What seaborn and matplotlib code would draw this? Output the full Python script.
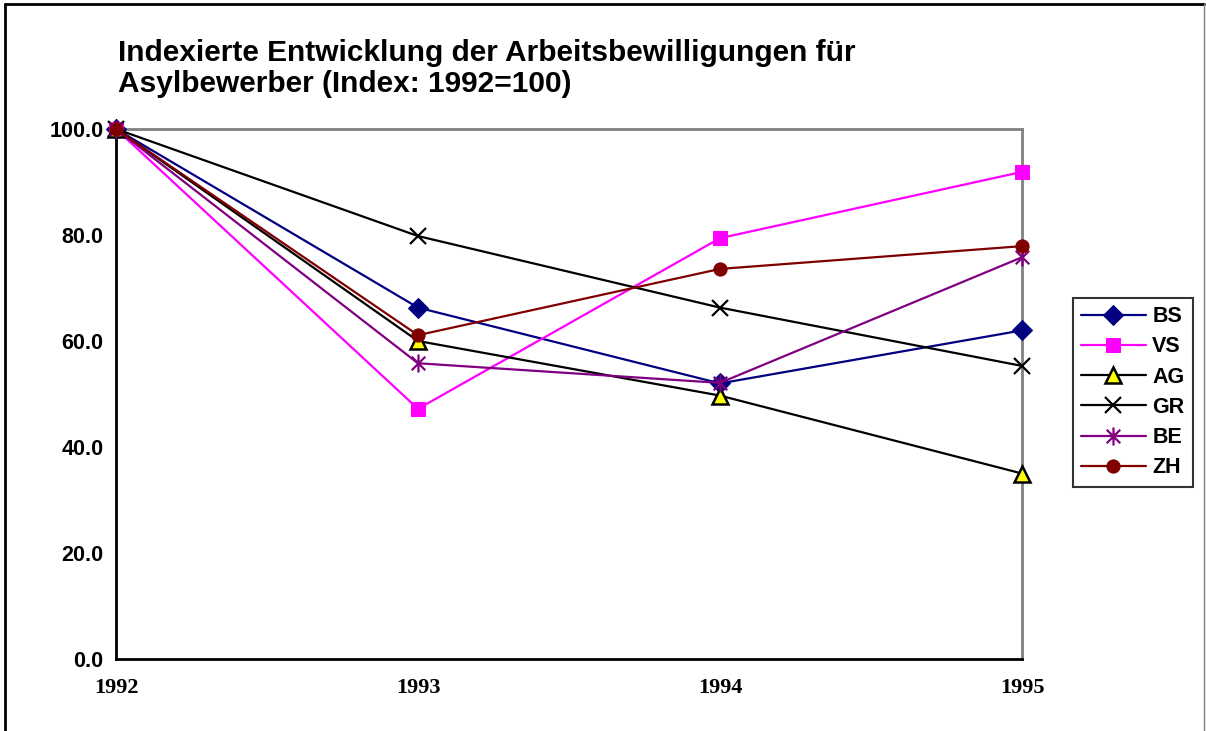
import numpy as np
import pandas as pd
import matplotlib
matplotlib.use("Agg")
import matplotlib.pyplot as plt
from matplotlib.path import Path
from matplotlib.lines import Line2D
import seaborn as sns

# Data (index, 1992 = 100)
years = [1992, 1993, 1994, 1995]
bs = [100.0, 66.3, 52.0, 62.0]
vs = [100.0, 47.2, 79.4, 91.9]
ag = [100.0, 60.0, 49.7, 35.0]
gr = [100.0, 79.8, 66.3, 55.3]
be = [100.0, 55.8, 52.1, 75.8]
zh = [100.0, 61.1, 73.6, 77.9]
series_names = ["BS", "VS", "AG", "GR", "BE", "ZH"]
series_values = [bs, vs, ag, gr, be, zh]

# Excel-style asterisk marker: vertical bar plus an x
asterisk = Path(
    [(0, -1), (0, 1), (-0.75, -0.75), (0.75, 0.75), (-0.75, 0.75), (0.75, -0.75)],
    [Path.MOVETO, Path.LINETO, Path.MOVETO, Path.LINETO, Path.MOVETO, Path.LINETO],
)

styles = {
    "BS": dict(color="#000080", marker="D", markersize=10, mfc="#000080", mec="#000080"),
    "VS": dict(color="#FF00FF", marker="s", markersize=10.5, mfc="#FF00FF", mec="#FF00FF"),
    "AG": dict(color="#000000", marker="^", markersize=11.5, mfc="#FFFF00", mec="#000000", mew=1.8),
    "GR": dict(color="#000000", marker="x", markersize=12, mec="#000000", mew=1.6),
    "BE": dict(color="#800080", marker=asterisk, markersize=13, mec="#800080", mew=1.6),
    "ZH": dict(color="#800000", marker="o", markersize=9.5, mfc="#800000", mec="#800000"),
}

sns.set_style("white")
plt.rcParams["font.family"] = ["Liberation Sans", "DejaVu Sans"]
plt.rcParams["text.color"] = "black"
plt.rcParams["xtick.color"] = "black"
plt.rcParams["ytick.color"] = "black"

fig = plt.figure(figsize=(12.06, 7.31), dpi=100)
ax = fig.add_axes([116 / 1206, 1 - 659 / 731, (1022 - 116) / 1206, (659 - 129) / 731])

for name, vals in zip(series_names, series_values):
    st = styles[name]
    sns.lineplot(x=years, y=vals, ax=ax, label=name, linewidth=1.6,
                 clip_on=False, zorder=3, **st)

ax.set_xlim(1992, 1995)
ax.set_ylim(0, 100)
ax.set_xticks(years)
ax.set_xticklabels([str(y) for y in years], family="Liberation Serif",
                   fontweight="bold", fontsize=16)
ax.set_yticks([0, 20, 40, 60, 80, 100])
ax.set_yticklabels([f"{v:.1f}" for v in [0, 20, 40, 60, 80, 100]],
                   fontweight="bold", fontsize=15.5)
ax.tick_params(axis="both", direction="inout", length=8, width=1.5, color="black")
ax.tick_params(axis="y", pad=5)
ax.tick_params(axis="x", pad=10)

for side in ["left", "bottom"]:
    ax.spines[side].set_color("black")
    ax.spines[side].set_linewidth(2)
for side in ["top", "right"]:
    ax.spines[side].set_color("#808080")
    ax.spines[side].set_linewidth(2)
    ax.spines[side].set_visible(True)
ax.set_xlabel("")
ax.set_ylabel("")

leg = ax.legend(loc="upper left", bbox_to_anchor=(1073 / 1206, 1 - 298 / 731),
                bbox_transform=fig.transFigure, borderaxespad=0, frameon=True,
                fancybox=False, edgecolor="black",
                prop={"weight": "bold", "size": 15.5}, handlelength=3.0,
                labelspacing=0.43, borderpad=0.38, handletextpad=0.3)
leg.get_frame().set_linewidth(1.5)

fig.text(118 / 1206, 1 - 39 / 731,
         "Indexierte Entwicklung der Arbeitsbewilligungen für\nAsylbewerber (Index: 1992=100)",
         fontsize=21.5, fontweight="bold", va="top", ha="left", linespacing=1.15)

# outer frame of the chart area
fig.add_artist(Line2D([5 / 1206, 5 / 1206], [0, 1 - 4 / 731], transform=fig.transFigure,
                      color="black", linewidth=2))
fig.add_artist(Line2D([5 / 1206, 1204 / 1206], [1 - 4 / 731, 1 - 4 / 731],
                      transform=fig.transFigure, color="black", linewidth=2))
fig.add_artist(Line2D([1204 / 1206, 1204 / 1206], [0, 1 - 4 / 731], transform=fig.transFigure,
                      color="#808080", linewidth=1))

fig.savefig("out.png", dpi=100)
